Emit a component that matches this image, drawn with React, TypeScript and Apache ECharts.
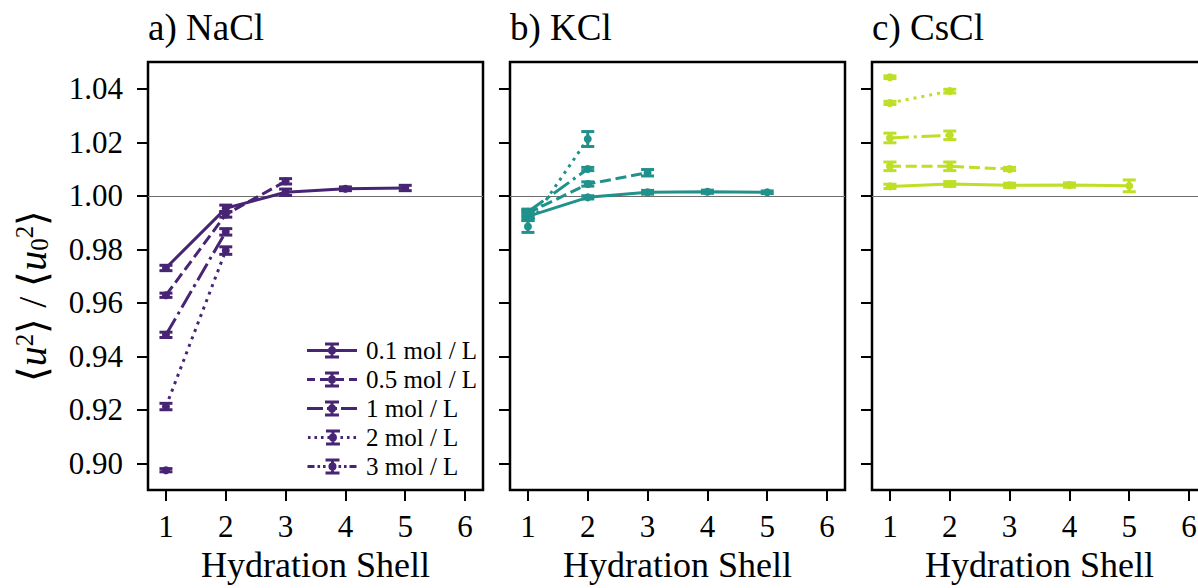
import React, { useEffect, useRef } from 'react';
import * as echarts from 'echarts';

// ---------------- data ----------------
const shells = [1, 2, 3, 4, 5];
const xTicks = [1, 2, 3, 4, 5, 6];
const yTicks = [0.9, 0.92, 0.94, 0.96, 0.98, 1.0, 1.02, 1.04];
const concentrations = ['0.1 mol / L', '0.5 mol / L', '1 mol / L', '2 mol / L', '3 mol / L'];
const saltTitles = ['a) NaCl', 'b) KCl', 'c) CsCl'];
const saltColors = ['#482475', '#21918c', '#bddf26'];

// mean <u^2>/<u0^2> per concentration (rows) and hydration shell (columns)
const naclMeans = [
  [0.973, 0.9953, 1.0013, 1.0026, 1.0029],
  [0.9628, 0.993, 1.0054],
  [0.948, 0.9865],
  [0.9212, 0.9795],
  [0.8974],
];
const naclErrors = [
  [0.001, 0.0012, 0.0012, 0.0007, 0.001],
  [0.0008, 0.001, 0.001],
  [0.001, 0.0012],
  [0.0012, 0.0014],
  [0.0006],
];
const kclMeans = [
  [0.9923, 0.9994, 1.0013, 1.0015, 1.0013],
  [0.9935, 1.0044, 1.0086],
  [0.994, 1.01],
  [0.9885, 1.0212],
  [0.993],
];
const kclErrors = [
  [0.0015, 0.0006, 0.0007, 0.0006, 0.0005],
  [0.0012, 0.0008, 0.0012],
  [0.001, 0.0006],
  [0.0022, 0.0028],
  [0.0012],
];
const csclMeans = [
  [1.0035, 1.0044, 1.0039, 1.004, 1.0037],
  [1.011, 1.011, 1.01],
  [1.0216, 1.0226],
  [1.0347, 1.0391],
  [1.0443],
];
const csclErrors = [
  [0.0008, 0.0009, 0.0008, 0.0008, 0.0022],
  [0.0016, 0.0016, 0.0006],
  [0.0018, 0.0016],
  [0.0006, 0.0007],
  [0.0005],
];

const allMeans = [naclMeans, kclMeans, csclMeans];
const allErrors = [naclErrors, kclErrors, csclErrors];

// ---------------- styling ----------------
const FONT = '"Liberation Serif", "Times New Roman", Times, serif';
const LW = 3;
const dashPatterns: any[] = ['solid', [11, 4.8], [19, 4.8, 3, 4.8], [3, 5], [9, 3, 3, 3, 3, 3]];
const legendSegments: number[][][] = [
  [[0, 50]],
  [[0, 8], [13, 21], [29, 37], [42, 50]],
  [[0, 16], [20, 23], [27, 30], [34, 50]],
  [[0, 2.6], [6.5, 9.1], [13, 15.6], [19.5, 22.1], [26, 28.6], [32.5, 35.1], [39, 41.6], [45.5, 48.1]],
  [[0, 7], [10, 12.6], [15.5, 18.1], [21, 28], [31, 33.6], [36.5, 39.1], [42, 49]],
];
const gridLefts = [148, 510, 872];
const GRID_TOP = 62;
const GRID_W = 335;
const GRID_H = 428;

function legendIcon(segs: number[][]) {
  let d = '';
  for (const [a, b] of segs) d += `M${a} 6.5H${b}V9.5H${a}Z`;
  d += 'M23.5 0H26.5V16H23.5Z M18 0H32V3H18Z M18 13H32V16H18Z M29 8A4 4 0 1 1 21 8A4 4 0 1 1 29 8Z';
  return 'path://' + d;
}

function buildOption() {
  const grids = gridLefts.map((left) => ({
    left,
    top: GRID_TOP,
    width: GRID_W,
    height: GRID_H,
    show: true,
    containLabel: false,
    outerBoundsMode: 'none',
    borderColor: '#000',
    borderWidth: 2.5,
    backgroundColor: 'transparent',
  }));

  const xAxes = gridLefts.map((_, i) => ({
    type: 'value',
    gridIndex: i,
    min: 0.7,
    max: 6.3,
    splitLine: { show: false },
    axisLine: { show: false },
    axisTick: { show: true, length: 11, customValues: xTicks, lineStyle: { color: '#000', width: 2 } },
    axisLabel: {
      customValues: xTicks,
      margin: 21,
      fontFamily: FONT,
      fontSize: 31,
      color: '#000',
    },
    name: 'Hydration Shell',
    nameLocation: 'middle',
    nameGap: 57,
    nameTextStyle: { fontFamily: FONT, fontSize: 36, color: '#000' },
  }));

  const yAxes = gridLefts.map((_, i) => ({
    type: 'value',
    gridIndex: i,
    min: 0.89,
    max: 1.05,
    splitLine: { show: false },
    axisLine: { show: false },
    axisTick: { show: true, length: 11, customValues: yTicks, lineStyle: { color: '#000', width: 2 } },
    axisLabel: {
      show: i === 0,
      customValues: yTicks,
      margin: 25,
      fontFamily: FONT,
      fontSize: 31,
      color: '#000',
      formatter: (v: number) => v.toFixed(2),
    },
  }));

  const lineSeries: any[] = [];
  const barSeries: any[] = [];
  for (let c = 0; c < concentrations.length; c++) {
    for (let s = 0; s < 3; s++) {
      const means = allMeans[s][c];
      const errs = allErrors[s][c];
      const color = saltColors[s];
      const pts = means.map((m, i) => [shells[i], m]);
      const ser: any = {
        type: 'line',
        name: concentrations[c],
        xAxisIndex: s,
        yAxisIndex: s,
        data: pts,
        color,
        symbol: 'circle',
        symbolSize: 8,
        itemStyle: { color },
        lineStyle: { color, width: LW, type: dashPatterns[c], cap: 'butt' },
        z: 3,
      };
      if (c === 0) {
        ser.markLine = {
          silent: true,
          symbol: 'none',
          label: { show: false },
          lineStyle: { color: '#6e6e6e', width: 1.2, type: 'solid' },
          data: [{ yAxis: 1.0 }],
          z: 1,
        };
      }
      lineSeries.push(ser);
      barSeries.push({
        type: 'custom',
        name: concentrations[c],
        xAxisIndex: s,
        yAxisIndex: s,
        data: means.map((m, i) => [shells[i], m, errs[i]]),
        encode: { x: 0, y: 1 },
        z: 4,
        renderItem: (params: any, api: any) => {
          const x = api.value(0);
          const y = api.value(1);
          const e = api.value(2);
          const top = api.coord([x, y + e]);
          const bot = api.coord([x, y - e]);
          const hw = 6.5;
          const st = { stroke: color, lineWidth: LW };
          return {
            type: 'group',
            children: [
              { type: 'line', shape: { x1: top[0], y1: top[1], x2: bot[0], y2: bot[1] }, style: st },
              { type: 'line', shape: { x1: top[0] - hw, y1: top[1], x2: top[0] + hw, y2: top[1] }, style: st },
              { type: 'line', shape: { x1: bot[0] - hw, y1: bot[1], x2: bot[0] + hw, y2: bot[1] }, style: st },
            ],
          };
        },
      });
    }
  }

  return {
    animation: false,
    backgroundColor: '#fff',
    title: saltTitles.map((t, i) => ({
      text: t,
      left: gridLefts[i],
      top: 9,
      padding: 0,
      textStyle: { fontFamily: FONT, fontSize: 37, fontWeight: 'normal', color: '#000' },
    })),
    grid: grids,
    xAxis: xAxes,
    yAxis: yAxes,
    legend: {
      orient: 'vertical',
      left: 307,
      top: 338,
      padding: 0,
      itemWidth: 50,
      itemHeight: 16,
      itemGap: 4,
      selectedMode: false,
      itemStyle: { borderWidth: 0 },
      textStyle: { fontFamily: FONT, fontSize: 25, color: '#000', padding: [0, 0, 0, 4] },
      data: concentrations.map((n, i) => ({ name: n, icon: legendIcon(legendSegments[i]) })),
    },
    graphic: [
      {
        type: 'text',
        x: 32,
        y: 296,
        rotation: Math.PI / 2,
        style: {
          text: '⟨{i|u}{sup|2}⟩ / ⟨{i|u}{sub|0}{sup|2}⟩',
          align: 'center',
          verticalAlign: 'middle',
          fontFamily: FONT,
          fontSize: 40,
          fill: '#000',
          rich: {
            i: { fontFamily: FONT, fontSize: 40, fontStyle: 'italic', fill: '#000' },
            sup: { fontFamily: FONT, fontSize: 25, verticalAlign: 'top', fill: '#000' },
            sub: { fontFamily: FONT, fontSize: 25, verticalAlign: 'bottom', fill: '#000' },
          },
        },
      },
    ],
    series: [...lineSeries, ...barSeries],
  };
}

export default function App() {
  const ref = useRef<HTMLDivElement>(null);
  useEffect(() => {
    if (!ref.current) return;
    const chart = echarts.init(ref.current, undefined, { renderer: 'svg' });
    chart.setOption(buildOption() as any);
    return () => chart.dispose();
  }, []);
  return (
    <div
      ref={ref}
      style={{ position: 'fixed', left: 0, top: 0, width: 1198, height: 588, background: '#fff' }}
    />
  );
}
